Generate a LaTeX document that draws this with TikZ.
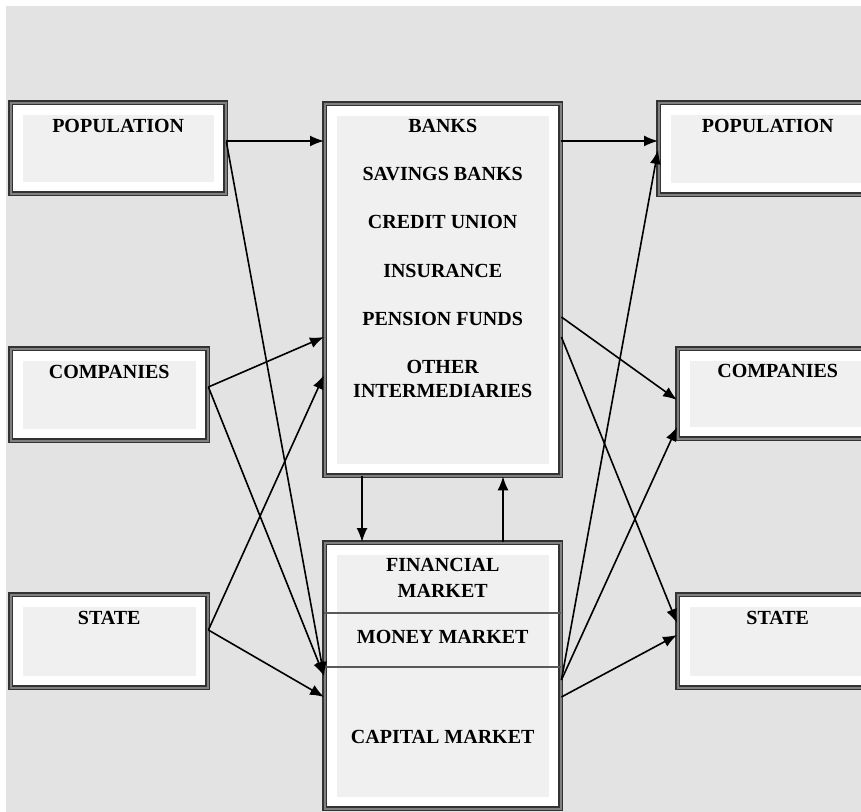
\documentclass[tikz,border=0pt]{standalone}
\usepackage{fontspec}
\setmainfont{Liberation Serif}
\usetikzlibrary{arrows.meta}

\tikzset{
  box/.style={draw=black!80, line width=0.7pt, double=black!50, double distance=0.9pt,
    fill=white, inner sep=0pt, anchor=north west,
    path picture={\fill[black!6] ([shift={(6pt,-6pt)}]path picture bounding box.north west)
      rectangle ([shift={(-6pt,6pt)}]path picture bounding box.south east);}},
  lbl/.style={font=\fontsize{10}{12}\selectfont\bfseries, anchor=base, inner sep=0pt},
  arr/.style={-{Latex[length=7pt,width=5.5pt]}, line width=0.8pt},
  divider/.style={draw=black!65, line width=1pt}
}

\begin{document}
\begin{tikzpicture}[x=0.5pt,y=-0.5pt]
\useasboundingbox (0,0) rectangle (861,812);
\clip (0,0) rectangle (861,812);
\fill[white] (0,0) rectangle (861,812);
\fill[black!11] (6,6) rectangle (861,812);

\node[box, minimum width=107.5pt, minimum height=45.5pt] (popl) at (10,102) {};
\node[box, minimum width=98.5pt, minimum height=46pt] (compl) at (10,348) {};
\node[box, minimum width=98.5pt, minimum height=46.5pt] (statel) at (10,594) {};
\node[box, minimum width=118pt, minimum height=186pt] (banks) at (324,103) {};
\node[box, minimum width=118pt, minimum height=133pt] (fin) at (324,542) {};
\node[box, minimum width=109pt, minimum height=46pt] (popr) at (658,102) {};
\node[box, minimum width=100pt, minimum height=45pt] (compr) at (677,348) {};
\node[box, minimum width=100pt, minimum height=46.5pt] (stater) at (677,594) {};

\draw[divider] (fin.west |- 0,613) -- (fin.east |- 0,613);
\draw[divider] (fin.west |- 0,667) -- (fin.east |- 0,667);

\node[lbl] at (popl.north |- 0,133) {POPULATION};
\node[lbl] at (compl.north |- 0,379) {COMPANIES};
\node[lbl] at (statel.north |- 0,624) {STATE};
\node[lbl] at (popr.north |- 0,133) {POPULATION};
\node[lbl] at (compr.north |- 0,378) {COMPANIES};
\node[lbl] at (stater.north |- 0,624) {STATE};

\node[lbl] at (banks.north |- 0,133) {BANKS};
\node[lbl] at (banks.north |- 0,181) {SAVINGS BANKS};
\node[lbl] at (banks.north |- 0,229) {CREDIT UNION};
\node[lbl] at (banks.north |- 0,278) {INSURANCE};
\node[lbl] at (banks.north |- 0,326) {PENSION FUNDS};
\node[lbl] at (banks.north |- 0,373) {OTHER};
\node[lbl] at (banks.north |- 0,397) {INTERMEDIARIES};

\node[lbl] at (fin.north |- 0,571) {FINANCIAL};
\node[lbl] at (fin.north |- 0,597) {MARKET};
\node[lbl] at (fin.north |- 0,643) {MONEY MARKET};
\node[lbl] at (fin.north |- 0,743) {CAPITAL MARKET};

\draw[arr] (popl.east |- 0,141) -- (banks.west |- 0,141);
\draw[arr] (popl.east |- 0,142) -- (fin.west |- 0,676);
\draw[arr] (compl.east |- 0,387) -- (banks.west |- 0,337);
\draw[arr] (compl.east |- 0,387) -- (fin.west |- 0,676);
\draw[arr] (statel.east |- 0,630) -- (banks.west |- 0,375);
\draw[arr] (statel.east |- 0,630) -- (fin.west |- 0,697);

\draw[arr] (banks.east |- 0,141) -- (popr.west |- 0,141);
\draw[arr] (banks.east |- 0,317) -- (compr.west |- 0,400);
\draw[arr] (banks.east |- 0,337) -- (stater.west |- 0,623);
\draw[arr] (fin.east |- 0,680) -- (popr.west |- 0,150);
\draw[arr] (fin.east |- 0,680) -- (compr.west |- 0,427);
\draw[arr] (fin.east |- 0,697) -- (stater.west |- 0,635);

\draw[arr] (banks.south -| 362,0) -- (fin.north -| 362,0);
\draw[arr] (fin.north -| 503,0) -- (banks.south -| 503,0);
\end{tikzpicture}
\end{document}
